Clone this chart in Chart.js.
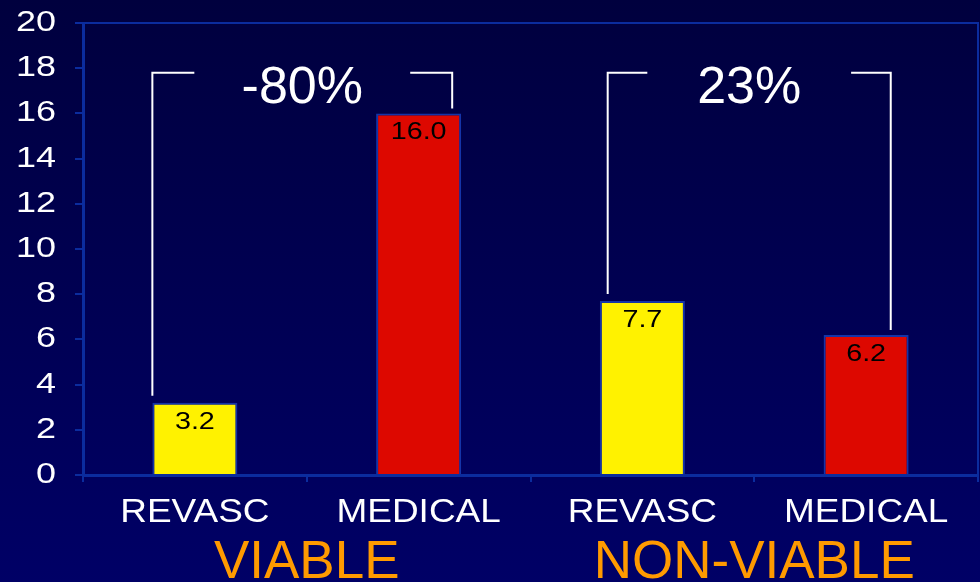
<!DOCTYPE html>
<html lang="en">
<head>
    <meta charset="UTF-8">
    <title>Revascularization vs Medical</title>
    <script src="https://cdn.jsdelivr.net/npm/chart.js"></script>
    <style>
        html, body {
            margin: 0;
            padding: 0;
            background: #00004a;
        }
        #wrap {
            width: 980px;
            height: 582px;
            background: linear-gradient(#00003e, #000066);
        }
    </style>
</head>
<body>
    <div id="wrap"><canvas id="chart" width="980" height="582"></canvas></div>
    <script>
        const categories = ["REVASC", "MEDICAL", "REVASC", "MEDICAL"];
        const values = [3.2, 16.0, 7.7, 6.2];
        const barColors = ["#fff200", "#dd0800", "#fff200", "#dd0800"];
        const groupLabels = ["VIABLE", "NON-VIABLE"];
        const changeLabels = ["-80%", "23%"];
        const yTicks = [0, 2, 4, 6, 8, 10, 12, 14, 16, 18, 20];

        // bracket legs: [bar index, offset from bar centre as share of category width]
        const bracketLegs = [
            [[0, -0.19], [1, 0.15]],
            [[2, -0.155], [3, 0.11]]
        ];
        const bracketTop = 17.8;

        const frameColor = "#0b2c9e";
        const FONT = "'Liberation Sans', Arial, sans-serif";

        // text drawn a little wider than the font, like the slide lettering
        function wideText(ctx, text, x, y, sx, align) {
            ctx.save();
            ctx.translate(x, y);
            ctx.scale(sx, 1);
            ctx.textAlign = align;
            ctx.fillText(text, 0, 0);
            ctx.restore();
        }

        const framePlugin = {
            id: "frame",
            afterDraw(chart) {
                const { ctx, chartArea: a } = chart;
                ctx.save();
                ctx.strokeStyle = frameColor;
                ctx.lineWidth = 2;
                ctx.strokeRect(a.left, a.top, a.right - a.left, a.bottom - a.top);
                ctx.restore();
            }
        };

        const labelPlugin = {
            id: "labels",
            afterDatasetsDraw(chart) {
                const { ctx, scales: { x, y } } = chart;
                const catW = x.getPixelForValue(1) - x.getPixelForValue(0);
                ctx.save();
                ctx.textBaseline = "alphabetic";

                // y axis numbers
                ctx.fillStyle = "#fff";
                ctx.font = "29px " + FONT;
                yTicks.forEach(v => {
                    wideText(ctx, String(v), 56, y.getPixelForValue(v) + 8, 1.24, "right");
                });

                // category names
                ctx.font = "33px " + FONT;
                categories.forEach((c, i) => {
                    wideText(ctx, c, x.getPixelForValue(i), 522, 1.12, "center");
                });

                // values inside the bars
                ctx.fillStyle = "#000";
                ctx.font = "23px " + FONT;
                values.forEach((v, i) => {
                    wideText(ctx, v.toFixed(1), x.getPixelForValue(i), y.getPixelForValue(v) + 26, 1.25, "center");
                });

                // brackets with percent change
                ctx.strokeStyle = "#fff";
                ctx.lineWidth = 2;
                const topY = y.getPixelForValue(bracketTop);
                bracketLegs.forEach((legs, g) => {
                    const [l, r] = legs;
                    const lx = x.getPixelForValue(l[0]) + l[1] * catW;
                    const rx = x.getPixelForValue(r[0]) + r[1] * catW;
                    const ly = y.getPixelForValue(values[l[0]]) - 7;
                    const ry = y.getPixelForValue(values[r[0]]) - 5;
                    const mid = (lx + rx) / 2;
                    const gap = (rx - lx) * 0.36;
                    ctx.beginPath();
                    ctx.moveTo(lx, ly);
                    ctx.lineTo(lx, topY);
                    ctx.lineTo(mid - gap, topY);
                    ctx.moveTo(mid + gap, topY);
                    ctx.lineTo(rx, topY);
                    ctx.lineTo(rx, ry);
                    ctx.stroke();

                    ctx.fillStyle = "#fff";
                    ctx.font = "52px " + FONT;
                    wideText(ctx, changeLabels[g], mid, topY + 30, 1.0, "center");
                });

                // group names under the categories
                ctx.fillStyle = "#ff9a00";
                ctx.font = "53px " + FONT;
                groupLabels.forEach((name, g) => {
                    const cx = (x.getPixelForValue(g * 2) + x.getPixelForValue(g * 2 + 1)) / 2;
                    wideText(ctx, name, cx, 578, 1.0, "center");
                });
                ctx.restore();
            }
        };

        new Chart(document.getElementById("chart"), {
            type: "bar",
            data: {
                labels: categories,
                datasets: [{
                    data: values,
                    backgroundColor: barColors,
                    borderColor: "#1434a8",
                    borderWidth: 2,
                    barPercentage: 0.76,
                    categoryPercentage: 0.5
                }]
            },
            options: {
                responsive: false,
                animation: false,
                layout: { padding: { top: 23, right: 2 } },
                plugins: {
                    legend: { display: false },
                    tooltip: { enabled: false }
                },
                scales: {
                    y: {
                        min: 0,
                        max: 20,
                        afterFit(scale) { scale.width = 83; },
                        afterBuildTicks(scale) {
                            scale.ticks = yTicks.map(v => ({ value: v }));
                        },
                        ticks: { display: false },
                        grid: {
                            drawOnChartArea: false,
                            color: frameColor,
                            lineWidth: 2,
                            tickLength: 8
                        },
                        border: { color: frameColor, width: 3 }
                    },
                    x: {
                        afterFit(scale) { scale.height = 107; },
                        ticks: { display: false },
                        grid: {
                            offset: true,
                            drawOnChartArea: false,
                            color: frameColor,
                            lineWidth: 2,
                            tickLength: 7
                        },
                        border: { color: frameColor, width: 3 }
                    }
                }
            },
            plugins: [framePlugin, labelPlugin]
        });
    </script>
</body>
</html>
